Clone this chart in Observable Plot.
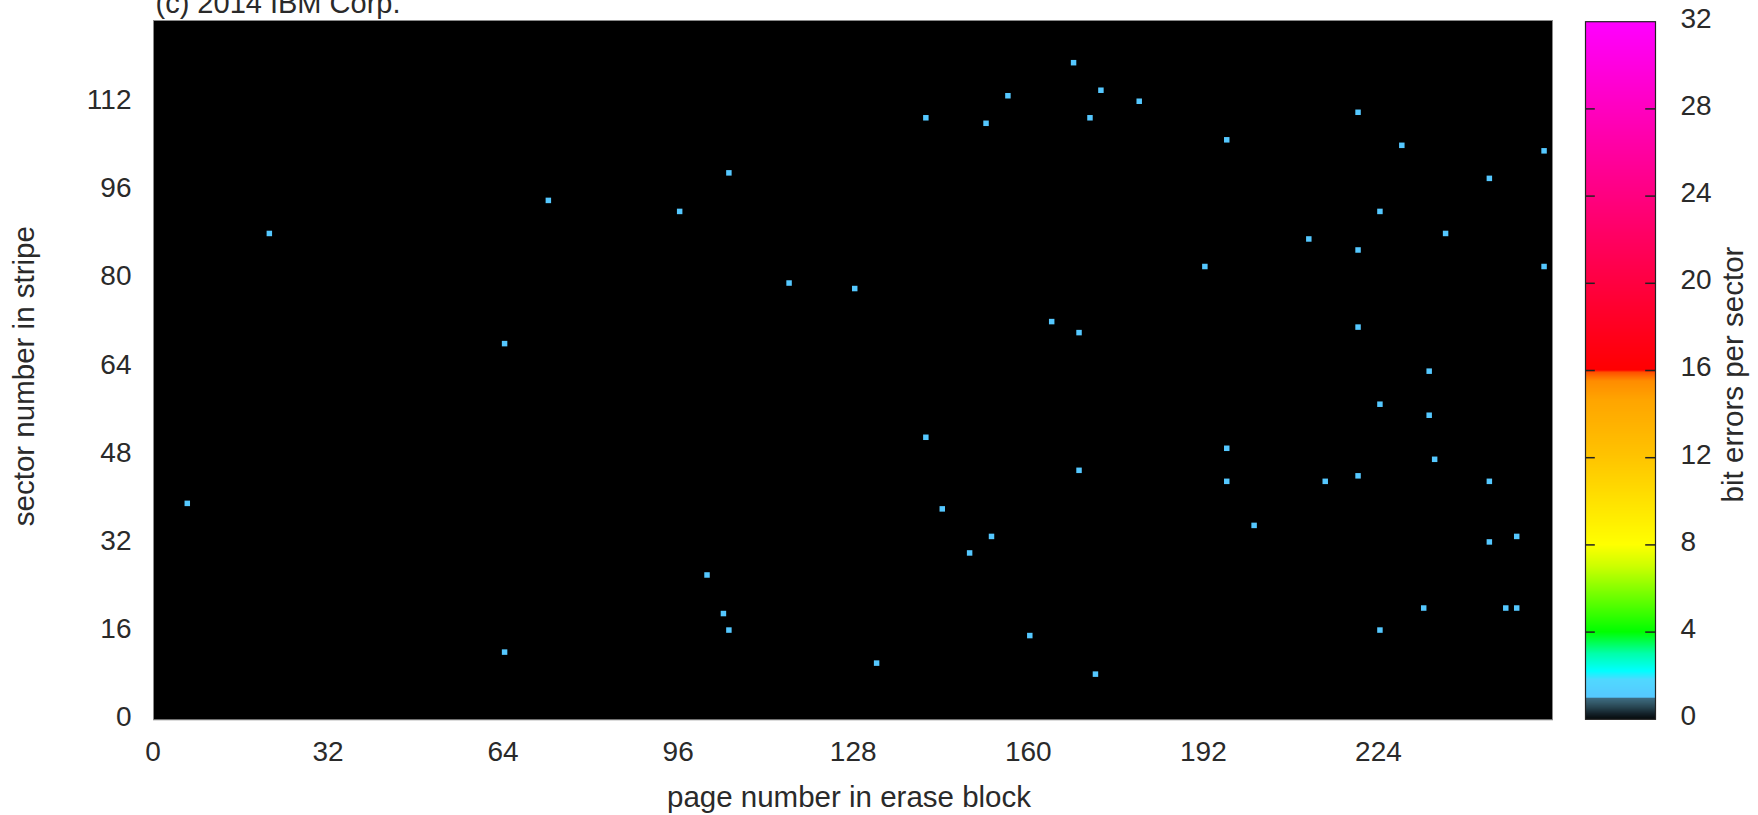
<!DOCTYPE html>
<html>
<head>
<meta charset="utf-8">
<script src="https://cdn.jsdelivr.net/npm/d3@7"></script>
<script src="https://cdn.jsdelivr.net/npm/@observablehq/plot@0.6"></script>
<style>
  html, body { margin: 0; padding: 0; background: #ffffff; }
  #wrap { display: flex; flex-direction: row; width: 1758px; height: 815px; overflow: hidden; }
  #wrap svg { display: block; flex: none; }
</style>
</head>
<body>
<div id="wrap"></div>
<script>
// ---- data ----
const pages = [6, 21, 64, 64, 72, 96, 101, 104, 105, 105, 116, 128, 132, 141, 141, 144, 149, 152, 153, 156,
  160, 164, 168, 169, 169, 171, 172, 173, 180, 192, 196, 196, 196, 201, 211, 214, 220, 220, 220, 220,
  224, 224, 224, 228, 232, 233, 233, 234, 236, 244, 244, 244, 247, 249, 249, 254, 254];
const sectors = [39, 88, 68, 12, 94, 92, 26, 19, 16, 99, 79, 78, 10, 109, 51, 38, 30, 108, 33, 113,
  15, 72, 119, 70, 45, 109, 8, 114, 112, 82, 105, 49, 43, 35, 87, 43, 110, 85, 71, 44,
  92, 57, 16, 104, 20, 63, 55, 47, 88, 98, 43, 32, 20, 33, 20, 103, 82];
const bitErrors = [1, 1, 1, 1, 1, 1, 1, 1, 1, 1, 1, 1, 1, 1, 1, 1, 1, 1, 1, 1,
  1, 1, 1, 1, 1, 1, 1, 1, 1, 1, 1, 1, 1, 1, 1, 1, 1, 1, 1, 1,
  1, 1, 1, 1, 1, 1, 1, 1, 1, 1, 1, 1, 1, 1, 1, 1, 1];

const xTicks = [0, 32, 64, 96, 128, 160, 192, 224];
const yTicks = [0, 16, 32, 48, 64, 80, 96, 112];
const cbTicks = [0, 4, 8, 12, 16, 20, 24, 28, 32];
const cbInnerTicks = [4, 8, 12, 16, 20, 24, 28];

// palette stops (bit errors -> colour)
const paletteStops = [0, 0.25, 0.5, 0.75, 0.95, 1.0, 1.8, 2.2, 3.0, 4.0, 5.5, 7.0, 8.0, 12.0, 14.6, 15.5, 15.9, 16.0, 32];
const paletteColors = ["#050a0c", "#14222a", "#24404c", "#345a6a", "#3d6a80", "#55c8ff", "#50d8ff", "#00ffff",
  "#00ffaa", "#00ff00", "#66ff00", "#ccff00", "#ffff00", "#ffc400", "#ffa500", "#ff8c00", "#ff5000", "#ff0000", "#ff00ff"];

const xTitle = "page number in erase block";
const yTitle = "sector number in stripe";
const cbTitle = "bit errors per sector";
const copyright = "(c) 2014 IBM Corp.";

const cells = pages.map((p, i) => ({page: p, sector: sectors[i], errors: bitErrors[i]}));

const FONT = "'Liberation Sans', Arial, Helvetica, sans-serif";
const colorScale = {type: "linear", domain: paletteStops, range: paletteColors, interpolate: "rgb"};

const main = Plot.plot({
  width: 1570,
  height: 815,
  marginLeft: 153,
  marginRight: 18,
  marginTop: 20,
  marginBottom: 95.7,
  style: {fontFamily: FONT, fontSize: "28px", color: "#2a2a2a", background: "#ffffff"},
  x: {domain: [-0.265, 255.45]},
  y: {domain: [-0.2, 126.75]},
  color: colorScale,
  marks: [
    Plot.frame({fill: "#000000"}),
    Plot.rect(cells, {
      x1: d => d.page - 0.5, x2: d => d.page + 0.5,
      y1: d => d.sector - 0.5, y2: d => d.sector + 0.5,
      fill: "errors"
    }),
    Plot.frame({stroke: "#8a8a8a", strokeWidth: 1}),
    Plot.axisX({ticks: xTicks, tickSize: 0, tickPadding: 21.5, dx: -2, label: null, tickFormat: d => String(d)}),
    Plot.axisY({ticks: yTicks, tickSize: 0, tickPadding: 22, dy: -1.5, label: null, tickFormat: d => String(d)}),
    Plot.text([xTitle], {text: d => d, frameAnchor: "bottom", lineAnchor: "bottom", dy: 87, dx: -4, fontSize: 29.5}),
    Plot.text([yTitle], {text: d => d, frameAnchor: "left", rotate: -90, lineAnchor: "middle", textAnchor: "middle", dx: -128.5, dy: 6, fontSize: 29.5}),
    Plot.text([copyright], {text: d => d, frameAnchor: "top-left", textAnchor: "start", lineAnchor: "bottom", dx: 2, dy: -8, fontSize: 29})
  ]
});

const bar = Plot.plot({
  width: 188,
  height: 815,
  marginLeft: 15,
  marginRight: 103,
  marginTop: 21.2,
  marginBottom: 96.2,
  style: {fontFamily: FONT, fontSize: "28px", color: "#2a2a2a", background: "#ffffff"},
  x: {domain: [0, 1], axis: null},
  y: {domain: [0, 32]},
  color: colorScale,
  marks: [
    Plot.raster({x1: 0, x2: 1, y1: 0, y2: 32, width: 1, height: 698, fill: (x, y) => y, imageRendering: "pixelated"}),
    Plot.ruleY(cbInnerTicks, {x1: 0, x2: 0.14, stroke: "#222", strokeWidth: 1.5}),
    Plot.ruleY(cbInnerTicks, {x1: 0.86, x2: 1, stroke: "#222", strokeWidth: 1.5}),
    Plot.frame({stroke: "#222", strokeWidth: 1.2}),
    Plot.axisY({anchor: "right", ticks: cbTicks, tickSize: 0, tickPadding: 25, dy: -3, label: null, tickFormat: d => String(d)}),
    Plot.text([cbTitle], {text: d => d, frameAnchor: "right", rotate: -90, lineAnchor: "middle", textAnchor: "middle", dx: 78, dy: 4, fontSize: 29.5})
  ]
});

const wrap = document.getElementById("wrap");
wrap.appendChild(main);
wrap.appendChild(bar);
</script>
</body>
</html>
